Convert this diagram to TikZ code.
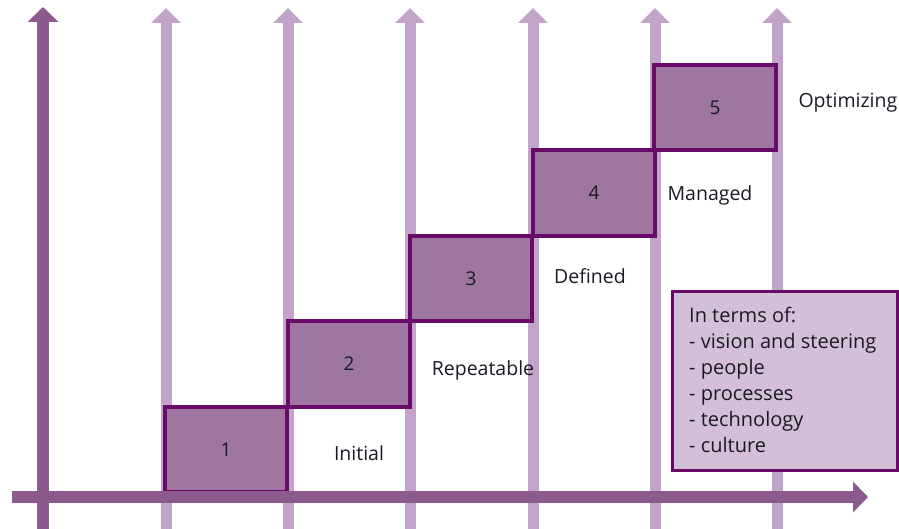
\documentclass[tikz,border=0pt]{standalone}
\usepackage{fontspec}
\setmainfont{Open Sans}
\usetikzlibrary{arrows.meta}
\definecolor{axisdark}{HTML}{8C5A8C}
\definecolor{axislight}{HTML}{C1A4C7}
\definecolor{stepfill}{HTML}{9E76A0}
\definecolor{stepedge}{HTML}{690A68}
\definecolor{notefill}{HTML}{D4BFD9}
\definecolor{inktext}{HTML}{1A1A24}
\tikzset{
  mainaxis/.style={draw=axisdark, line width=12pt,
    -{Triangle[width=30pt,length=15pt]}},
  gridaxis/.style={draw=axislight, line width=11pt,
    -{Triangle[width=29pt,length=15pt]}},
  stepbox/.style={draw=stepedge, fill=stepfill, line width=4pt,
    minimum width=122pt, minimum height=85.5pt, inner sep=0pt,
    font=\fontsize{19}{22}\selectfont, text=inktext},
  levellabel/.style={font=\fontsize{19.5}{22}\selectfont, text=inktext},
  notebox/.style={draw=stepedge, fill=notefill, line width=3pt,
    minimum width=225pt, minimum height=179pt, inner sep=0pt,
    text=inktext}
}
\begin{document}
\begin{tikzpicture}[x=1pt,y=-1pt]
\useasboundingbox (0,0) rectangle (899,529);
% axis end points
\coordinate (ybot) at (43,529);
\coordinate (ytop) at (43,7);
\foreach \i/\x in {1/166,2/288,3/410,4/533,5/655,6/777}{
  \coordinate (g\i bot) at (\x,529);
  \coordinate (g\i top) at (\x,8);
}
\coordinate (xleft) at (12,497);
\coordinate (xright) at (868,497);
% light grid arrows
\foreach \i in {1,...,6}{
  \draw[gridaxis] (g\i bot) -- (g\i top);
}
% main vertical axis
\draw[mainaxis] (ybot) -- (ytop);
% maturity steps
\node[stepbox] (s1) at (226,449.5) {1};
\node[stepbox] (s2) at (349,364) {2};
\node[stepbox] (s3) at (471,278.5) {3};
\node[stepbox] (s4) at (594,193) {4};
\node[stepbox] (s5) at (715,107.5) {5};
% horizontal axis
\draw[mainaxis] (xleft) -- (xright);
% level names
\node[levellabel] (l1) at (359,453) {Initial};
\node[levellabel] (l2) at (483,370) {Repeatable};
\node[levellabel] (l3) at (590,276) {Defined};
\node[levellabel] (l4) at (710,195) {Managed};
\node[levellabel, anchor=west] (l5) at (795,103) {Optimizing};
% dimensions note
\node[notebox] (note) at (784.5,380.5) {};
\node[anchor=north west, inner sep=0pt, align=left, text=inktext,
  font=\fontsize{20}{26}\selectfont] (notetext) at (689,307)
  {In terms of:\\- vision and steering\\- people\\- processes\\- technology\\- culture};
\end{tikzpicture}
\end{document}
